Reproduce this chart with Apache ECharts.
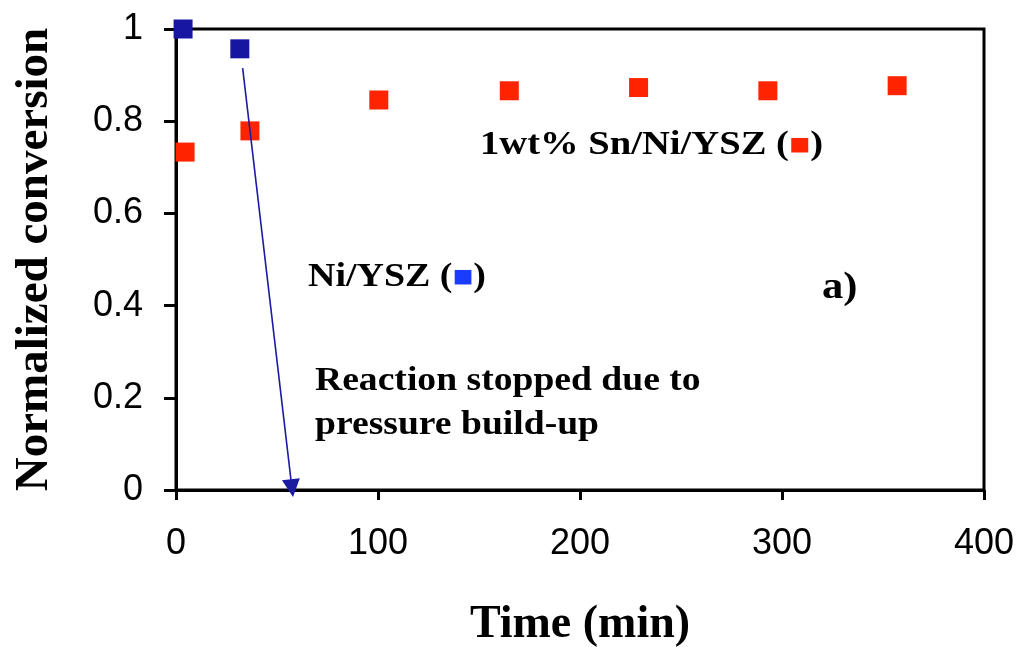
<!DOCTYPE html>
<html><head><meta charset="utf-8">
<script src="https://cdn.jsdelivr.net/npm/echarts@6/dist/echarts.min.js"></script>
<style>html,body{margin:0;padding:0;background:#fff}#c{width:1021px;height:647px}</style>
</head><body><div id="c"></div>
<script>
const niYSZ = [[3.5, 1.0], [31.6, 0.957]];
const snNiYSZ = [[4.5, 0.733], [36.6, 0.779], [100.4, 0.846], [165, 0.866], [229, 0.873], [293, 0.866], [357, 0.877]];
const arrowLine = [[33, 0.915], [57.4, 0.004]];
const xTicks = [0, 100, 200, 300, 400];
const yTicks = [0, 0.2, 0.4, 0.6, 0.8, 1];

const chart = echarts.init(document.getElementById('c'));
const serif = '"Liberation Serif", "Times New Roman", serif';
const sans = '"Liberation Sans", Arial, sans-serif';
chart.setOption({
  animation: false,
  grid: {left: 176, right: 37, top: 29, bottom: 157, outerBoundsMode: 'none', containLabel: false,
         show: true, borderColor: '#000', borderWidth: 3},
  xAxis: {
    type: 'value', min: 0, max: 400, interval: 100,
    axisLine: {show: true, lineStyle: {color: '#000', width: 3}},
    axisTick: {show: true, length: 10, lineStyle: {color: '#000', width: 3}},
    splitLine: {show: false},
    axisLabel: {color: '#000', fontFamily: sans, fontSize: 36, margin: 36,
      formatter: v => xTicks.includes(v) ? String(v) : ''},
    name: 'Time (min)', nameLocation: 'middle', nameGap: 112,
    nameTextStyle: {fontFamily: serif, fontWeight: 'bold', fontSize: 46, color: '#000'}
  },
  yAxis: {
    type: 'value', min: 0, max: 1, interval: 0.2,
    axisLine: {show: true, lineStyle: {color: '#000', width: 3}},
    axisTick: {show: true, length: 12, lineStyle: {color: '#000', width: 3}},
    splitLine: {show: false},
    axisLabel: {color: '#000', fontFamily: sans, fontSize: 36, margin: 33,
      formatter: v => { const t = yTicks.find(y => Math.abs(y - v) < 1e-9); return t === undefined ? '' : String(Math.round(t * 10) / 10); }},
    name: 'Normalized conversion', nameLocation: 'middle', nameGap: 118,
    nameTextStyle: {fontFamily: serif, fontWeight: 'bold', fontSize: 47, color: '#000'}
  },
  series: [
    {type: 'scatter', name: 'Ni/YSZ', data: niYSZ, symbol: 'rect', symbolSize: 19,
     itemStyle: {color: '#1616a2', opacity: 1}, z: 3,
     markLine: {
      silent: true, symbol: ['none', 'triangle'], symbolSize: [18, 18],
      lineStyle: {color: '#1c1ca0', width: 1.6, type: 'solid', opacity: 1},
      itemStyle: {color: '#1c1ca0'},
      label: {show: false},
      data: [[{coord: arrowLine[0]}, {coord: arrowLine[1]}]]
     }},
    {type: 'scatter', name: '1wt% Sn/Ni/YSZ', data: snNiYSZ, symbol: 'rect', symbolSize: 19,
     itemStyle: {color: '#ff2400', opacity: 1}, z: 3}
  ],
  graphic: [
    {type: 'text', left: 480, top: 129, scaleX: 1.17, style: {
      text: '1wt% Sn/Ni/YSZ ({r|■})', fill: '#000',
      font: 'bold 33px ' + serif,
      rich: {r: {fill: '#ff2400', fontSize: 30, fontFamily: sans}}
    }},
    {type: 'text', left: 308, top: 261, scaleX: 1.15, style: {
      text: 'Ni/YSZ ({b|■})', fill: '#000',
      font: 'bold 33px ' + serif,
      rich: {b: {fill: '#1a3cff', fontSize: 30, fontFamily: sans}}
    }},
    {type: 'text', left: 315, top: 359, scaleX: 1.14, style: {
      text: 'Reaction stopped due to\npressure build-up', fill: '#000',
      font: 'bold 33px ' + serif, lineHeight: 44
    }},
    {type: 'text', left: 822, top: 270, scaleX: 1.15, style: {
      text: 'a)', fill: '#000', font: 'bold 37px ' + serif
    }}
  ]
});
</script></body></html>
